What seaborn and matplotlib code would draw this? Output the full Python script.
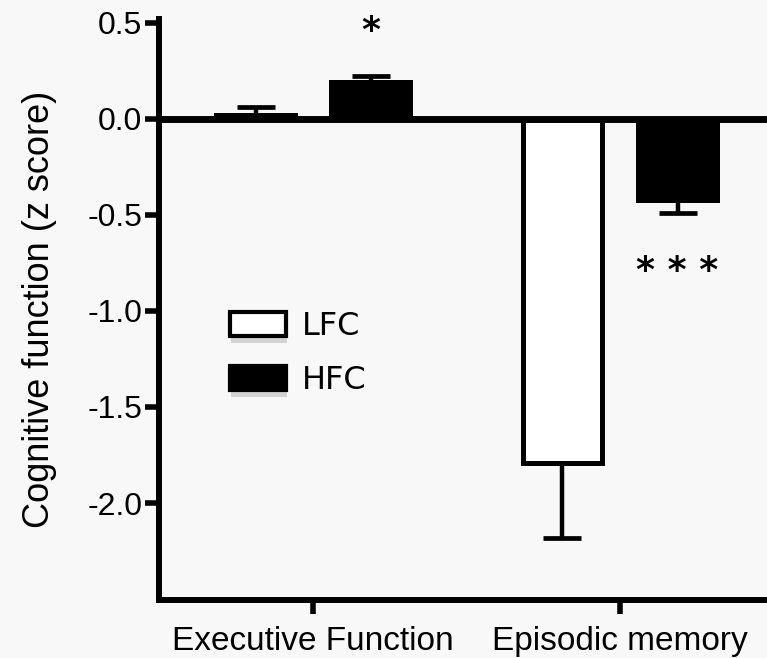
import matplotlib
matplotlib.use("Agg")
import matplotlib.pyplot as plt
import matplotlib.patches as mpatches
import matplotlib.patheffects as pe
import numpy as np
import pandas as pd
import seaborn as sns

# ---- data ----
domains = ["Executive Function", "Episodic memory"]
groups = ["LFC", "HFC"]
lfc_means = [0.02, -1.79]
hfc_means = [0.19, -0.42]
lfc_err = [0.04, 0.39]
hfc_err = [0.035, 0.07]
y_ticks = [0.5, 0.0, -0.5, -1.0, -1.5, -2.0]
y_tick_labels = ["0.5", "0.0", "-0.5", "-1.0", "-1.5", "-2.0"]
annotations = ["*", "* * *"]
annotation_y = [0.46, -0.79]

df = pd.DataFrame({
    "domain": domains * 2,
    "group": ["LFC"] * 2 + ["HFC"] * 2,
    "mean": lfc_means + hfc_means,
    "err": lfc_err + hfc_err,
})

sns.set_style("ticks")
plt.rcParams["font.family"] = ["Liberation Sans", "DejaVu Sans"]
plt.rcParams["axes.unicode_minus"] = False
for k in ["text.color", "axes.labelcolor", "xtick.color", "ytick.color",
          "xtick.labelcolor", "ytick.labelcolor", "axes.edgecolor"]:
    plt.rcParams[k] = "black"

bg = "#f8f8f8"
fig = plt.figure(figsize=(7.67, 6.58), dpi=100, facecolor=bg)
ax = fig.add_axes([159 / 767, 58 / 658, 1 - 159 / 767, (600 - 19) / 658])
ax.set_facecolor(bg)

palette = {"LFC": "white", "HFC": "black"}
sns.barplot(data=df, x="domain", y="mean", hue="group", order=domains,
            hue_order=groups, palette=palette, errorbar=None, width=0.75,
            gap=0.31, edgecolor="black", linewidth=3.6, saturation=1,
            legend=False, ax=ax, zorder=3)

# error bars, one-sided away from zero
bars = [p for p in ax.patches if isinstance(p, mpatches.Rectangle)]
for grp_i, g in enumerate(groups):
    sub = df[df["group"] == g]
    for j, (_, row) in enumerate(sub.iterrows()):
        p = bars[grp_i * len(domains) + j]
        xc = p.get_x() + p.get_width() / 2
        m, e = row["mean"], row["err"]
        yerr = [[e if m < 0 else 0], [e if m > 0 else 0]]
        ax.errorbar([xc], [m], yerr=yerr, fmt="none", ecolor="black",
                    elinewidth=3.2, capsize=14, capthick=3.4, zorder=2)

ax.axhline(0, color="black", lw=5, zorder=4, solid_capstyle="butt")

ax.set_xlim(-0.502, 1.479)
ax.set_ylim(-2.505, 0.52)
ax.set_yticks(y_ticks)
ax.set_yticklabels(y_tick_labels)
ax.set_xlabel("")
ax.set_ylabel("Cognitive function (z score)", fontsize=26, labelpad=22)
ax.tick_params(axis="y", labelsize=23, width=4, length=10, pad=2)
ax.tick_params(axis="x", labelsize=24, width=4, length=10, pad=9)

for s in ["top", "right"]:
    ax.spines[s].set_visible(False)
for s in ["left", "bottom"]:
    ax.spines[s].set_linewidth(4.3)

# significance stars
hfc_bars = bars[len(domains):]
for b, txt, yy in zip(hfc_bars, annotations, annotation_y):
    ax.text(b.get_x() + b.get_width() / 2, yy, txt, ha="center", va="center",
            fontsize=26, fontweight="bold", family=["DejaVu Sans"])

# legend
handles = [mpatches.Patch(facecolor=palette[g], edgecolor="black", linewidth=3)
           for g in groups]
leg = ax.legend(handles, groups, loc="upper left",
                bbox_to_anchor=(230 / 767, 1 - 311 / 658),
                bbox_transform=fig.transFigure, frameon=False,
                prop={"family": "DejaVu Sans", "size": 23},
                handlelength=1.75, handleheight=0.75, handletextpad=0.5,
                labelspacing=0.72, borderpad=0, borderaxespad=0)
for p in leg.get_patches():
    p.set_path_effects([pe.SimplePatchShadow(offset=(1, -5), shadow_rgbFace="#bbbbbb", alpha=0.6),
                        pe.Normal()])

fig.savefig("out.png", dpi=100, facecolor=bg)
